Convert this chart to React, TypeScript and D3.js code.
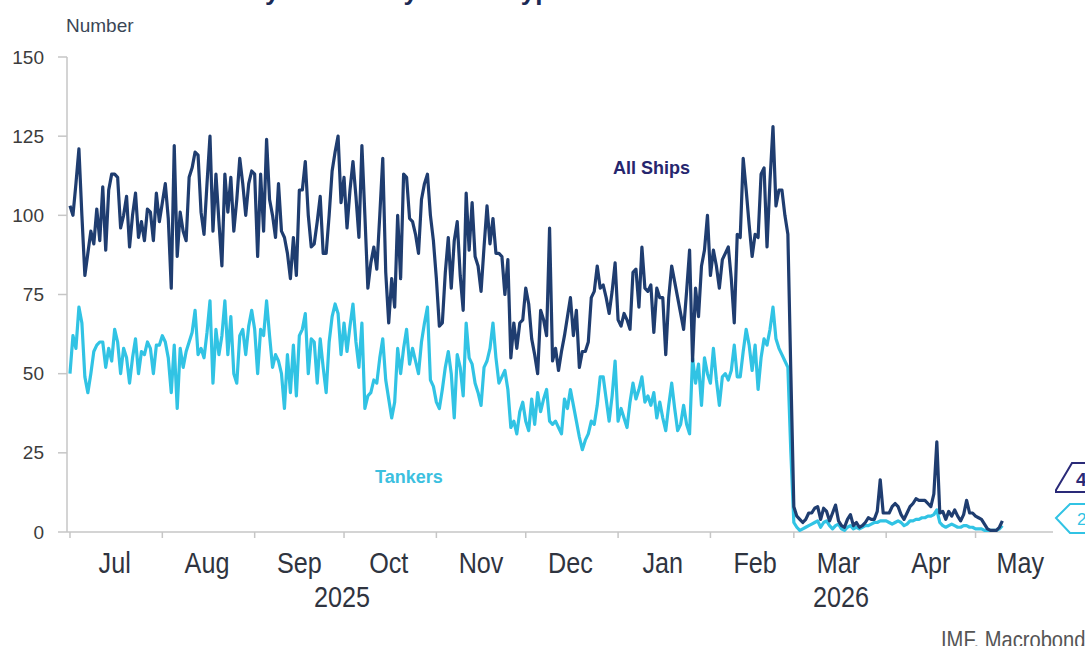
import * as d3 from "d3";

// daily counts, first value = 1 Jul 2025
const startDate = new Date(2025, 6, 1);

const allShips = [
  103, 100, 110, 121, 100, 81, 88, 95, 91, 102,
  92, 109, 89, 108, 113, 113, 112, 96, 100, 106,
  90, 100, 107, 93, 98, 92, 102, 101, 92, 107,
  98, 104, 110, 99, 77, 122, 87, 101, 95, 92,
  112, 115, 120, 119, 101, 94, 110, 125, 95, 113,
  98, 84, 113, 101, 112, 95, 105, 118, 110, 100,
  110, 114, 113, 87, 113, 95, 124, 105, 100, 93,
  110, 95, 93, 88, 80, 93, 81, 108, 108, 117,
  100, 90, 91, 98, 106, 88, 88, 100, 114, 120,
  125, 104, 112, 96, 108, 117, 106, 93, 122, 100,
  77, 85, 90, 83, 100, 118, 82, 66, 80, 71,
  100, 80, 113, 112, 99, 98, 94, 88, 105, 110,
  113, 100, 92, 80, 65, 66, 82, 93, 77, 92,
  98, 81, 70, 107, 89, 104, 87, 84, 76, 90,
  103, 91, 99, 88, 88, 87, 75, 86, 55, 66,
  58, 66, 67, 77, 72, 61, 56, 50, 70, 67,
  62, 96, 54, 58, 51, 57, 62, 68, 74, 62,
  70, 52, 57, 57, 60, 74, 76, 84, 77, 78,
  74, 69, 76, 85, 67, 65, 69, 67, 64, 82,
  83, 71, 90, 77, 76, 78, 63, 77, 74, 74,
  56, 74, 84, 79, 74, 69, 64, 76, 89, 54,
  77, 68, 84, 89, 100, 81, 89, 84, 77, 86,
  88, 90, 80, 66, 94, 93, 118, 108, 97, 87,
  94, 93, 113, 115, 90, 111, 128, 103, 108, 108,
  100, 94, 50, 8, 5, 4, 3, 4, 6, 6,
  7.5, 8, 4, 7.5, 6.5, 3.5, 6, 8.5, 3.5, 2,
  1.5, 4, 5.5, 2, 3, 1.5, 2, 3, 4.5, 4,
  4, 6.5, 16.5, 6, 6, 6, 8, 9, 8, 5.5,
  4, 6, 8, 9, 10.5, 10, 10, 10, 9, 8,
  12, 28.5, 6, 6.5, 4, 6.5, 5, 7, 5, 3.5,
  5.5, 10, 6, 6, 5, 4.5, 4, 2.5, 1, 0.5,
  0.5, 0.5, 1.5, 3.5,
];

const tankers = [
  50, 62, 58, 71, 66, 49, 44, 50, 57, 59,
  60, 60, 52, 58, 54, 64, 60, 50, 58, 55,
  47, 55, 61, 50, 57, 56, 60, 58, 50, 59,
  59, 62, 60, 55, 44, 59, 39, 58, 52, 57,
  60, 63, 70, 56, 58, 55, 63, 73, 47, 64,
  56, 62, 73, 56, 68, 50, 47, 62, 64, 56,
  65, 70, 64, 50, 64, 62, 73, 62, 52, 56,
  54, 50, 39, 56, 44, 59, 43, 62, 64, 69,
  50, 61, 60, 47, 61, 52, 44, 60, 68, 72,
  69, 56, 66, 57, 65, 72, 60, 52, 66, 39,
  43, 44, 48, 47, 55, 61, 48, 42, 36, 41,
  58, 50, 58, 64, 53, 58, 54, 50, 60, 66,
  71, 48, 46, 41, 39, 45, 52, 57, 50, 36,
  56, 52, 43, 66, 55, 53, 47, 44, 40, 52,
  54, 58, 66, 55, 47, 49, 51, 45, 33, 35,
  31, 38, 41, 35, 32, 42, 34, 44, 38, 42,
  45, 35, 34, 35, 33, 31, 42, 39, 45, 40,
  35, 30, 26, 29, 31, 35, 34, 40, 49, 49,
  42, 35, 43, 54, 35, 39, 36, 33, 41, 47,
  42, 45, 49, 41, 43, 40, 44, 36, 41, 36,
  32, 40, 47, 39, 32, 34, 40, 34, 31, 55,
  47, 53, 40, 55, 50, 47, 58, 48, 40, 49,
  50, 48, 51, 59, 49, 49, 57, 64, 59, 51,
  59, 45, 55, 61, 59, 64, 71, 61, 58, 56,
  54, 52, 25, 3, 1.5, 0.5, 1, 1.5, 2, 2.5,
  3, 3.5, 1.5, 3, 3.5, 2, 1, 2, 2.5, 1,
  0.5, 1.5, 2, 1, 1.5, 1, 1.5, 2, 2, 2.5,
  3, 3, 3.5, 3.5, 3.5, 3, 2.5, 3, 3.5, 3,
  2, 2.5, 3.5, 3.5, 4, 4, 4.5, 4.5, 5, 5,
  5.5, 7, 3, 2, 1.5, 2, 2.5, 2, 1.5, 1.5,
  2, 2, 1.5, 1.5, 1, 1, 1, 0.5, 0.5, 0.5,
  0.5, 0.5, 1, 2,
];

const yTicks = [0, 25, 50, 75, 100, 125, 150];
const monthLabels = ["Jul", "Aug", "Sep", "Oct", "Nov", "Dec", "Jan", "Feb", "Mar", "Apr", "May"];
const years = [
  { label: "2025", from: new Date(2025, 6, 1), to: new Date(2026, 0, 1) },
  { label: "2026", from: new Date(2026, 0, 1), to: new Date(2026, 5, 1) },
];

const navy = "#1f3d70";
const cyan = "#31c3e4";
const sans = "'Liberation Sans', Arial, sans-serif";

export default function App() {
  const width = 1085;
  const height = 646;
  const left = 67;
  const right = 1053;
  const top = 57;
  const bottom = 532;

  const x = d3
    .scaleTime()
    .domain([new Date(2025, 5, 30), new Date(2026, 4, 27)])
    .range([left, right]);
  const y = d3.scaleLinear().domain([0, 150]).range([bottom, top]);

  const dateAt = (i: number) => d3.timeDay.offset(startDate, i);
  const line = d3
    .line<number>()
    .x((_, i) => x(dateAt(i)))
    .y((d) => y(d))
    .curve(d3.curveLinear);

  const monthStarts = d3.timeMonth.range(new Date(2025, 6, 1), new Date(2026, 5, 1));
  const lastShips = allShips[allShips.length - 1];
  const lastTankers = tankers[tankers.length - 1];

  // condensed axis font: regular face squeezed horizontally
  const squeezed = (cx: number, cy: number) => `translate(${cx},${cy}) scale(0.84,1)`;

  return (
    <svg
      width={width}
      height={height}
      style={{ position: "absolute", left: 0, top: 0, background: "#fff" }}
      fontFamily={sans}
    >
      {/* cut-off title at the very top */}
      <text x={2} y={0} fontSize={26} fontWeight="bold" fill="#1b2a55">
        Strait of Hormuz: daily transits by vessel type
      </text>

      <text x={66} y={32} fontSize={19} fill="#3a4656">
        Number
      </text>

      {/* y axis */}
      <line x1={left} x2={left} y1={top} y2={bottom} stroke="#c6c6c6" strokeWidth={1.5} />
      {yTicks.map((t) => (
        <g key={t}>
          <line x1={left - 9} x2={left} y1={y(t)} y2={y(t)} stroke="#c6c6c6" strokeWidth={1.5} />
          <text x={44} y={y(t) + 6.5} textAnchor="end" fontSize={19} fill="#3c3c3c">
            {t}
          </text>
        </g>
      ))}

      {/* x axis */}
      <line x1={left} x2={right} y1={bottom} y2={bottom} stroke="#c6c6c6" strokeWidth={1.5} />
      {monthStarts.map((m, i) => (
        <line key={i} x1={x(m)} x2={x(m)} y1={bottom} y2={bottom + 6} stroke="#c6c6c6" strokeWidth={1.5} />
      ))}
      {monthStarts.slice(0, monthLabels.length).map((m, i) => {
        const mid = new Date(m.getFullYear(), m.getMonth(), 16);
        return (
          <text
            key={i}
            transform={squeezed(x(mid), 573)}
            textAnchor="middle"
            fontSize={30}
            fill="#2f3440"
          >
            {monthLabels[i]}
          </text>
        );
      })}
      {years.map((yr) => (
        <text
          key={yr.label}
          transform={squeezed((x(yr.from) + x(yr.to)) / 2 - 2, 607)}
          textAnchor="middle"
          fontSize={30}
          fill="#2f3440"
        >
          {yr.label}
        </text>
      ))}

      {/* series */}
      <path d={line(tankers)!} fill="none" stroke={cyan} strokeWidth={3.2} strokeLinejoin="round" />
      <path d={line(allShips)!} fill="none" stroke={navy} strokeWidth={3.2} strokeLinejoin="round" />

      <text x={613} y={174} fontSize={18} fontWeight="bold" fill="#26266e">
        All Ships
      </text>
      <text x={375} y={483} fontSize={18} fontWeight="bold" fill="#3cc0df">
        Tankers
      </text>

      {/* last-value tags, cut by the right edge */}
      <path
        d="M1056,490 L1072,463 L1100,463 L1100,492 L1056,492 Z"
        fill="#fff"
        stroke="#2a2a78"
        strokeWidth={2}
      />
      <text x={1076} y={486} fontSize={19} fontWeight="bold" fill="#2a2a78">
        {lastShips.toFixed(0)}
      </text>
      <path
        d="M1056,518 L1070,504 L1100,504 L1100,533 L1070,533 Z"
        fill="#fff"
        stroke={cyan}
        strokeWidth={2}
      />
      <text x={1077} y={525} fontSize={17} fill={cyan}>
        {lastTankers.toFixed(0)}
      </text>

      <text transform={squeezed(941, 648)} fontSize={24} fill="#555">
        IMF, Macrobond
      </text>
    </svg>
  );
}
